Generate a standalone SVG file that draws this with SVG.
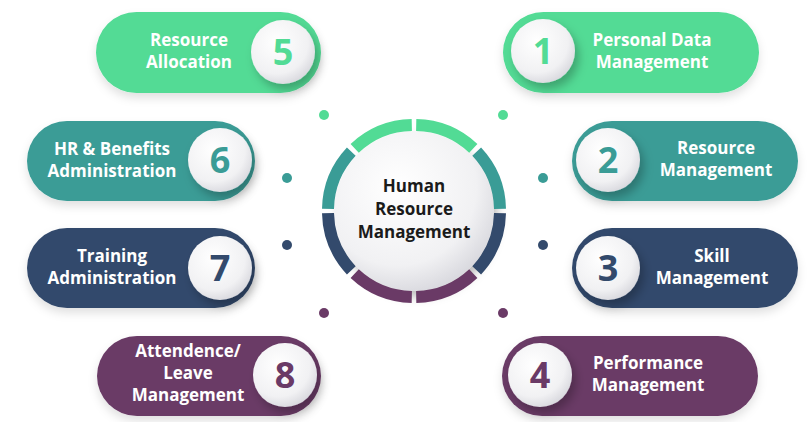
<svg xmlns="http://www.w3.org/2000/svg" width="811" height="422" viewBox="0 0 811 422">
<defs>
<radialGradient id="ball" cx="0.4" cy="0.35" r="0.7"><stop offset="0" stop-color="#ffffff"/><stop offset="0.7" stop-color="#f1f1f3"/><stop offset="1" stop-color="#d6d6dc"/></radialGradient>
<filter id="sh" x="-30%" y="-30%" width="170%" height="170%"><feDropShadow dx="4" dy="6" stdDeviation="5" flood-color="#000" flood-opacity="0.25"/></filter>
<filter id="ps" x="-10%" y="-20%" width="120%" height="150%"><feDropShadow dx="0" dy="5" stdDeviation="5" flood-color="#000" flood-opacity="0.12"/></filter>
</defs>
<style>
.t{font-family:"Open Sans","Liberation Sans",sans-serif;font-weight:700;font-size:17px;fill:#fff;text-anchor:middle}
.n{font-family:"Open Sans","Liberation Sans",sans-serif;font-weight:700;font-size:36px;text-anchor:middle}
.c{font-family:"Open Sans","Liberation Sans",sans-serif;font-weight:700;font-size:17px;fill:#1b1b1b;text-anchor:middle}
.g{fill:#52db95}.te{fill:#3a9c96}.nv{fill:#334a6c}.pu{fill:#6a3a66}
.seg{fill:none;stroke-width:12}
</style>
<rect width="811" height="422" fill="#fff"/>
<g id="connectors">
<circle cx="324" cy="115" r="5" class="g"/><circle cx="503" cy="115" r="5" class="g"/>
<circle cx="287" cy="178" r="5" class="te"/><circle cx="543" cy="178" r="5" class="te"/>
<circle cx="287" cy="245" r="5" class="nv"/><circle cx="543" cy="245" r="5" class="nv"/>
<circle cx="324" cy="313" r="5" class="pu"/><circle cx="503" cy="313" r="5" class="pu"/>
</g>
<g id="center">
<circle cx="414" cy="211" r="80" fill="url(#ball)" filter="url(#sh)"/>
<g class="seg">
<path d="M416.2,125 A86,86 0 0 1 473.3,148.3" stroke="#52db95"/>
<path d="M354.7,148.3 A86,86 0 0 1 411.8,125" stroke="#52db95"/>
<path d="M476.7,151.7 A86,86 0 0 1 500,208.8" stroke="#3a9c96"/>
<path d="M328,208.8 A86,86 0 0 1 351.3,151.7" stroke="#3a9c96"/>
<path d="M500,213.2 A86,86 0 0 1 476.7,270.3" stroke="#334a6c"/>
<path d="M351.3,270.3 A86,86 0 0 1 328,213.2" stroke="#334a6c"/>
<path d="M473.3,273.7 A86,86 0 0 1 416.2,297" stroke="#6a3a66"/>
<path d="M411.8,297 A86,86 0 0 1 354.7,273.7" stroke="#6a3a66"/>
</g>
<text class="c" x="414" y="192">Human</text>
<text class="c" x="414" y="215">Resource</text>
<text class="c" x="414" y="238">Management</text>
</g>
<g id="n1"><rect x="503" y="12" width="256" height="81" rx="40.5" class="g" filter="url(#ps)"/><circle cx="543" cy="51" r="32" fill="url(#ball)" filter="url(#sh)"/><text class="n g" x="543" y="64">1</text><text class="t" x="652" y="46">Personal Data</text><text class="t" x="652" y="68">Management</text></g>
<g id="n2"><rect x="572" y="121" width="226" height="80" rx="40" class="te" filter="url(#ps)"/><circle cx="608" cy="160" r="32" fill="url(#ball)" filter="url(#sh)"/><text class="n te" x="608" y="173">2</text><text class="t" x="716" y="154">Resource</text><text class="t" x="716" y="176">Management</text></g>
<g id="n3"><rect x="572" y="228" width="226" height="80" rx="40" class="nv" filter="url(#ps)"/><circle cx="608" cy="268" r="32" fill="url(#ball)" filter="url(#sh)"/><text class="n nv" x="608" y="281">3</text><text class="t" x="712" y="262">Skill</text><text class="t" x="712" y="284">Management</text></g>
<g id="n4"><rect x="502" y="336" width="256" height="80" rx="40" class="pu" filter="url(#ps)"/><circle cx="540" cy="375" r="32" fill="url(#ball)" filter="url(#sh)"/><text class="n pu" x="540" y="388">4</text><text class="t" x="648" y="369">Performance</text><text class="t" x="648" y="391">Management</text></g>
<g id="n5"><rect x="96" y="12" width="225" height="81" rx="40.5" class="g" filter="url(#ps)"/><circle cx="283" cy="52" r="32" fill="url(#ball)" filter="url(#sh)"/><text class="n g" x="283" y="65">5</text><text class="t" x="189" y="46">Resource</text><text class="t" x="189" y="68">Allocation</text></g>
<g id="n6"><rect x="27" y="121" width="228" height="80" rx="40" class="te" filter="url(#ps)"/><circle cx="220" cy="160" r="32" fill="url(#ball)" filter="url(#sh)"/><text class="n te" x="220" y="173">6</text><text class="t" x="112" y="155">HR &amp; Benefits</text><text class="t" x="112" y="177">Administration</text></g>
<g id="n7"><rect x="27" y="228" width="228" height="80" rx="40" class="nv" filter="url(#ps)"/><circle cx="220" cy="268" r="32" fill="url(#ball)" filter="url(#sh)"/><text class="n nv" x="220" y="281">7</text><text class="t" x="112" y="262">Training</text><text class="t" x="112" y="284">Administration</text></g>
<g id="n8"><rect x="97" y="336" width="224" height="80" rx="40" class="pu" filter="url(#ps)"/><circle cx="285" cy="375" r="32" fill="url(#ball)" filter="url(#sh)"/><text class="n pu" x="285" y="388">8</text><text class="t" x="188" y="357">Attendence/</text><text class="t" x="188" y="379">Leave</text><text class="t" x="188" y="401">Management</text></g>
</svg>
